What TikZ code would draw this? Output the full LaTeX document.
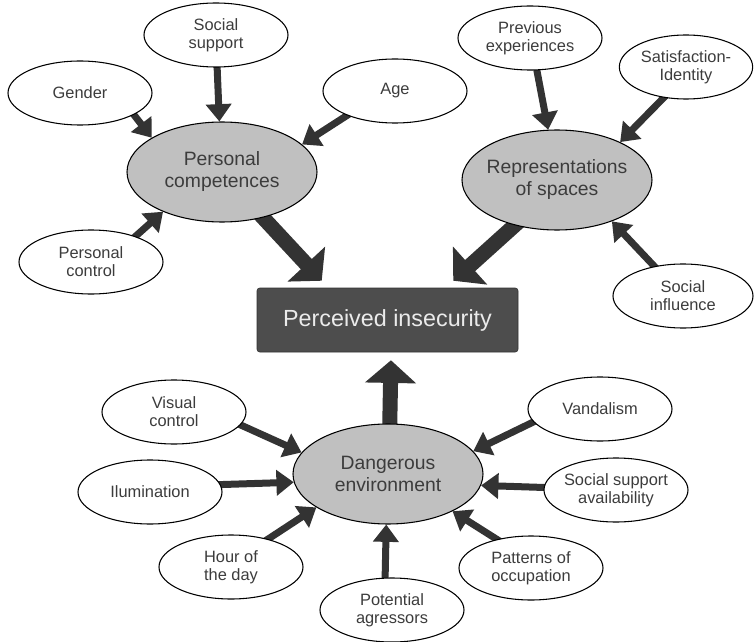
\documentclass[tikz,border=0pt]{standalone}
\usepackage{fontspec}
\setmainfont{Liberation Sans}
\usetikzlibrary{arrows.meta, shapes.geometric, backgrounds}
\definecolor{inkgray}{HTML}{333333}
\definecolor{coregray}{HTML}{C0C0C0}
\definecolor{boxgray}{HTML}{4D4D4D}
\definecolor{textgray}{HTML}{3C3C3C}

\begin{document}
\begin{tikzpicture}[x=0.75pt, y=-0.75pt, factor/.style={ellipse, draw=black, line width=0.8pt, fill=white, text=textgray, minimum width=108pt, minimum height=48pt, inner xsep=-2pt, inner ysep=0pt, align=center, font=\fontsize{12.3}{13.5}\selectfont}, core/.style={factor, fill=coregray, minimum width=142.5pt, minimum height=75pt, inner xsep=-6pt, font=\fontsize{14.5}{16.5}\selectfont}, outcome/.style={rectangle, rounded corners=2pt, draw=inkgray, fill=boxgray, text=white!92!black, minimum width=195.75pt, minimum height=48pt, font=\fontsize{17.5}{20}\selectfont}, link/.style={draw=inkgray, line width=5.25pt, shorten <=-4pt, -{Triangle[width=18.75pt, length=13pt]}}, flow/.style={draw=inkgray, line width=11.25pt, shorten <=-6pt, -{Triangle[width=37.5pt, length=17pt]}}]
\useasboundingbox (0,0) rectangle (754,642);

% top left cluster
\node[factor] (soc) at (216,35) {Social\\support}; \node[factor] (gen) at (80,93) {Gender}; \node[factor] (age) at (395,91) {Age};
\node[core] (pc) at (222,172) {Personal\\competences}; \node[factor] (pctl) at (91,262) {Personal\\control};
% top right cluster
\node[factor] (prev) at (530,38) {Previous\\experiences}; \node[factor, minimum width=100pt] (sat) at (686,67) {Satisfaction-\\Identity};
\node[core] (rep) at (557,180) {Representations\\of spaces}; \node[factor, minimum width=105pt] (infl) at (683,296) {Social\\influence};
% outcome
\node[outcome] (ins) at (387.5,320) {Perceived insecurity};
% bottom cluster
\node[core] (dang) at (388,474) {Dangerous\\environment};
\node[factor] (vis) at (174,412) {Visual\\control}; \node[factor] (ilu) at (150,492) {Ilumination}; \node[factor] (hour) at (231,567) {Hour of\\the day};
\node[factor] (pot) at (392,610) {Potential\\agressors}; \node[factor] (vand) at (600,409) {Vandalism};
\node[factor] (ssa) at (616,490) {Social support\\availability}; \node[factor] (pat) at (531,568) {Patterns of\\occupation};

\begin{scope}[on background layer]
\fill[white] (0,0) rectangle (754,642);
\draw[link] (soc.-88) -- (pc.93); \draw[link] (gen.-22) -- (pc.154); \draw[link] (age.207) -- (pc.19); \draw[link] (pctl.30) -- (pc.214);
\draw[link] (prev.-78) -- (rep.100); \draw[link] (sat.234) -- (rep.31); \draw[link] (infl.134) -- (rep.-37);
\draw[link] (vis.-11) -- (dang.166); \draw[link] (ilu.6) -- (dang.185); \draw[link] (hour.37) -- (dang.205); \draw[link] (pot.102) -- (dang.-92);
\draw[link] (vand.191) -- (dang.15); \draw[link] (ssa.178) -- (dang.-7); \draw[link] (pat.140) -- (dang.-30);
\draw[flow] (pc.-48) -- ([xshift=48.75pt, yshift=5.25pt]ins.north west); \draw[flow] (rep.227) -- ([xshift=-48.75pt, yshift=5.25pt]ins.north east);
\draw[flow] (dang.88) -- ([xshift=2.6pt, yshift=-6pt]ins.south);
\end{scope}
\end{tikzpicture}
\end{document}
